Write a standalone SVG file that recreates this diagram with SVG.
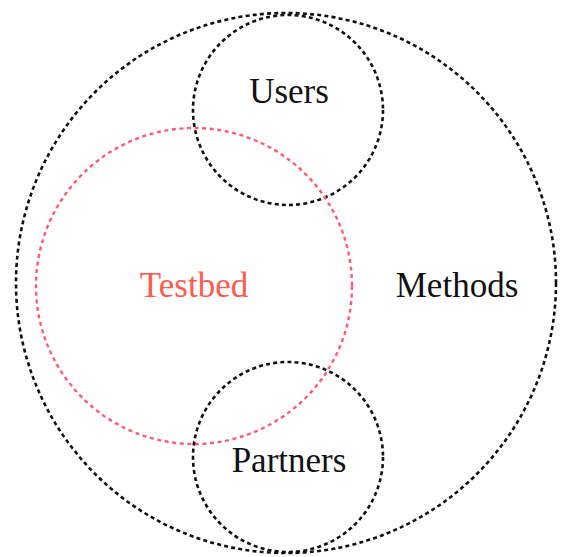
<svg xmlns="http://www.w3.org/2000/svg" width="564" height="557" viewBox="0 0 564 557">
<style>
.c{fill:none;stroke:#111;stroke-width:2.6;stroke-dasharray:4 3.2}
.r{fill:none;stroke:#ff5a78;stroke-width:2.4;stroke-dasharray:4 3.6}
.t{font-family:"Liberation Serif","Times New Roman",serif;font-size:35px;fill:#111;text-anchor:middle}
</style>
<rect width="564" height="557" fill="#fff"/>
<g id="methods"><circle class="c" cx="286" cy="283" r="270"/><text class="t" x="457" y="297">Methods</text></g>
<g id="users"><circle class="c" cx="288" cy="110" r="95"/><text class="t" x="289" y="103">Users</text></g>
<g id="testbed"><circle class="r" cx="194" cy="286" r="158"/><text class="t" x="194" y="297" style="fill:#ff5a4c">Testbed</text></g>
<g id="partners"><circle class="c" cx="288" cy="457" r="95"/><text class="t" x="289" y="472">Partners</text></g>
<g id="connectors"/>
</svg>
